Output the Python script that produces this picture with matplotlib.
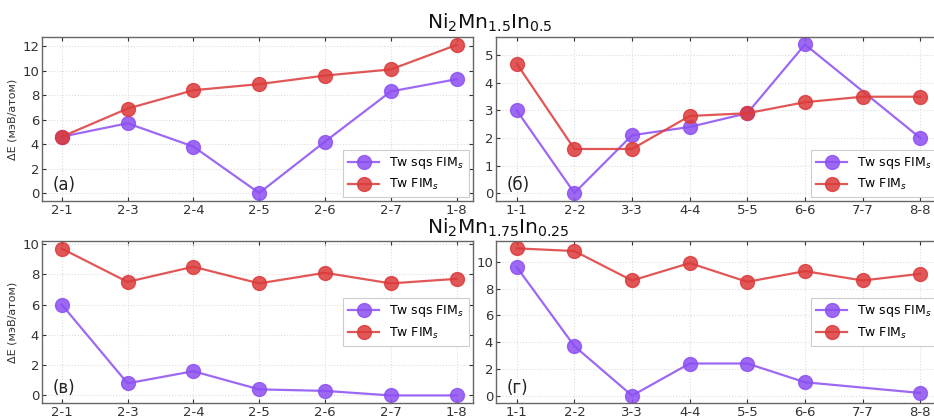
import numpy as np
from matplotlib import pyplot as plt
from matplotlib.ticker import MultipleLocator

pairs_a = ['2-1', '2-3', '2-4', '2-5', '2-6', '2-7', '1-8']
pairs_b = ['1-1', '2-2', '3-3', '4-4', '5-5', '6-6', '7-7', '8-8']

# Ni2Mn1.5In0.5
sqs_a = [4.6, 5.7, 3.8, 0.0, 4.2, 8.3, 9.3]
fim_a = [4.6, 6.9, 8.4, 8.9, 9.6, 10.1, 12.1]
sqs_b = [3.0, 0.0, 2.1, 2.4, 2.9, 5.4, None, 2.0]
fim_b = [4.7, 1.6, 1.6, 2.8, 2.9, 3.3, 3.5, 3.5]

# Ni2Mn1.75In0.25
sqs_c = [6.0, 0.8, 1.6, 0.4, 0.3, 0.0, 0.0]
fim_c = [9.7, 7.5, 8.5, 7.4, 8.1, 7.4, 7.7]
sqs_d = [9.6, 3.7, 0.0, 2.4, 2.4, 1.0, None, 0.2]
fim_d = [11.0, 10.8, 8.6, 9.9, 8.5, 9.3, 8.6, 9.1]

titles = [r'Ni$_2$Mn$_{1.5}$In$_{0.5}$', r'Ni$_2$Mn$_{1.75}$In$_{0.25}$']
panel_labels = ['(a)', '(б)', '(в)', '(г)']
ylabel = 'ΔE (мэВ/атом)'

purple = '#8c4ff2'
red = '#dc3a3a'

plt.rcParams['font.family'] = ['DejaVu Sans']
plt.rcParams['mathtext.fontset'] = 'dejavusans'

fig = plt.figure(figsize=(9.34, 4.17), dpi=100)

W, H = 934, 417


def axes_px(x0, y0, x1, y1):
    return fig.add_axes([x0 / W, 1 - y1 / H, (x1 - x0) / W, (y1 - y0) / H])


ax_a = axes_px(42, 37, 473, 201)
ax_b = axes_px(496, 37, 941, 201)
ax_c = axes_px(42, 241, 473, 403)
ax_d = axes_px(496, 241, 941, 403)


def plot_series(ax, labels, values, color, name):
    x = np.arange(len(labels))
    y = np.array([np.nan if v is None else v for v in values], dtype=float)
    ok = ~np.isnan(y)
    ax.plot(x[ok], y[ok], '-o', color=color, lw=1.6, ms=10, alpha=0.85,
            label=name)


panels = [
    (ax_a, pairs_a, sqs_a, fim_a, 'lower right', 2),
    (ax_b, pairs_b, sqs_b, fim_b, 'lower right', 1),
    (ax_c, pairs_a, sqs_c, fim_c, 'center right', 2),
    (ax_d, pairs_b, sqs_d, fim_d, 'center right', 2),
]

for i, (ax, labels, sqs, fim, loc, step) in enumerate(panels):
    plot_series(ax, labels, sqs, purple, r'Tw sqs FIM$_s$')
    plot_series(ax, labels, fim, red, r'Tw FIM$_s$')
    ax.set_xticks(np.arange(len(labels)))
    ax.set_xticklabels(labels)
    ax.yaxis.set_major_locator(MultipleLocator(step))
    ax.grid(True, color='#dddddd', ls=':', lw=0.8)
    ax.set_axisbelow(True)
    ax.tick_params(direction='in', top=True, right=True, labelsize=9.5,
                   colors='#333333', length=3, pad=2)
    for s in ax.spines.values():
        s.set_color('#666666')
        s.set_linewidth(1.0)
    ax.text(0.025, 0.04, panel_labels[i], transform=ax.transAxes,
            fontsize=12, color='#222222', ha='left', va='bottom')
    leg = ax.legend(loc=loc, fontsize=9, borderaxespad=0.3,
                    handlelength=2.5, framealpha=1, edgecolor='#cccccc',
                    fancybox=False)
    leg.get_frame().set_linewidth(0.8)

ax_a.set_ylim(-0.65, 12.75)
ax_b.set_ylim(-0.29, 5.67)
ax_c.set_ylim(-0.5, 10.2)
ax_d.set_ylim(-0.55, 11.55)
ax_a.set_xlim(-0.3, 6.25)
ax_c.set_xlim(-0.3, 6.25)
ax_b.set_xlim(-0.36, 7.36)
ax_d.set_xlim(-0.36, 7.36)

for ax in (ax_a, ax_c):
    ax.set_ylabel(ylabel, fontsize=8, color='#333333')
    ax.yaxis.set_label_coords(-0.056, 0.5)

fig.text(427 / W, 1 - 29 / H, titles[0], ha='left', va='baseline',
         fontsize=14.5, color='#111111')
fig.text(427 / W, 1 - 234 / H, titles[1], ha='left', va='baseline',
         fontsize=14.5, color='#111111')

fig.savefig('out.png', dpi=100)
